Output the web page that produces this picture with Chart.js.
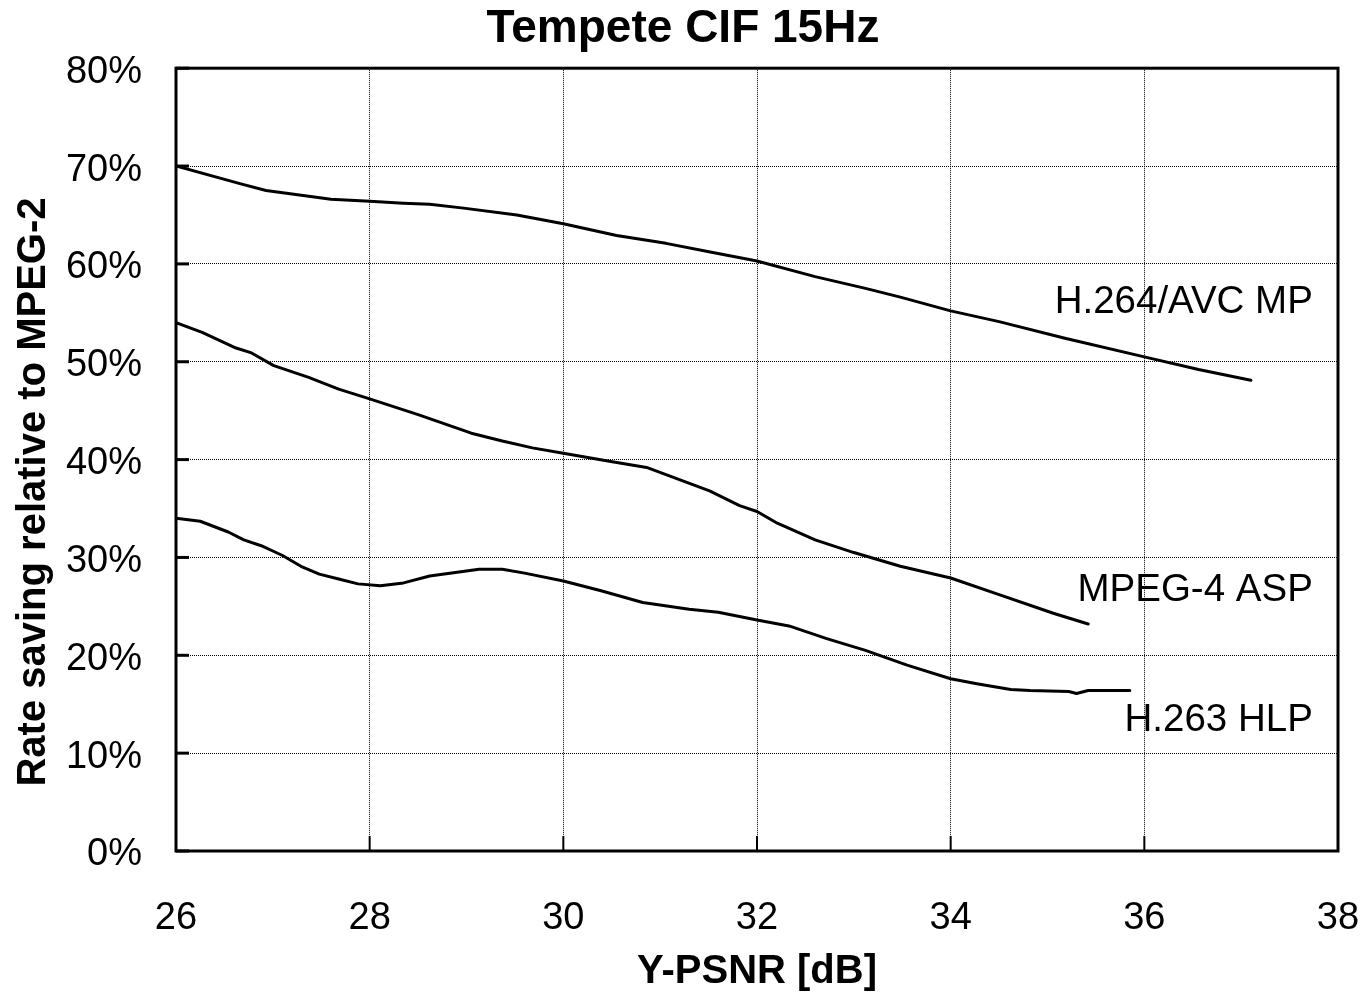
<!DOCTYPE html>
<html>
<head>
<meta charset="utf-8">
<script src="https://cdn.jsdelivr.net/npm/chart.js@4.4.1/dist/chart.umd.min.js"></script>
<style>
    html, body { margin: 0; padding: 0; background: #fff; }
    #wrap { width: 1363px; height: 997px; }
</style>
</head>
<body>
<div id="wrap"><canvas id="rdChart" width="1363" height="997"></canvas></div>
<script>
'use strict';

// Y-PSNR [dB] / rate saving [%]
const h264Psnr = [26, 26.66, 26.93, 27.6, 28.0, 28.35, 28.62, 28.97, 29.52, 30.0, 30.55, 31.06, 31.53, 32.0,
    32.6, 33.12, 33.48, 34.0, 34.5, 35.18, 36.0, 36.56, 37.1];
const h264Saving = [70.0, 68.2, 67.5, 66.6, 66.4, 66.2, 66.1, 65.7, 65.0, 64.1, 62.9, 62.1, 61.2, 60.3,
    58.7, 57.5, 56.6, 55.2, 54.1, 52.4, 50.5, 49.2, 48.1];

const mpeg4Psnr = [26, 26.27, 26.62, 26.78, 27.01, 27.37, 27.68, 28.0, 28.5, 29.05, 29.37, 29.68, 30.0, 30.49,
    30.86, 31.24, 31.51, 31.82, 32.0, 32.21, 32.6, 33.0, 33.48, 34.0, 34.5, 35.06, 35.42];
const mpeg4Saving = [54.0, 53.0, 51.4, 50.9, 49.6, 48.4, 47.2, 46.2, 44.6, 42.7, 41.9, 41.2, 40.65, 39.8,
    39.2, 37.8, 36.8, 35.3, 34.7, 33.5, 31.8, 30.5, 29.1, 27.9, 26.2, 24.3, 23.2];

const h263Psnr = [26, 26.25, 26.54, 26.7, 26.88, 27.1, 27.29, 27.48, 27.68, 27.88, 28.11, 28.35, 28.62, 29.13,
    29.37, 29.6, 30.0, 30.39, 30.82, 31.3, 31.6, 32.0, 32.33, 32.72, 33.12, 33.55, 34.0, 34.27, 34.62,
    34.82, 35.22, 35.3, 35.42, 35.85];
const h263Saving = [34.0, 33.7, 32.6, 31.8, 31.2, 30.2, 29.1, 28.3, 27.8, 27.3, 27.1, 27.4, 28.1, 28.8,
    28.8, 28.4, 27.6, 26.6, 25.4, 24.7, 24.4, 23.6, 23.0, 21.7, 20.5, 19.0, 17.6, 17.1, 16.5,
    16.4, 16.3, 16.1, 16.4, 16.4];

const seriesNames = ['H.264/AVC MP', 'MPEG-4 ASP', 'H.263 HLP'];
const xTicks = [26, 28, 30, 32, 34, 36, 38];
const yTicks = [0, 10, 20, 30, 40, 50, 60, 70, 80];

const FONT = '"Liberation Sans", Arial, Helvetica, sans-serif';

function toPoints(xs, ys) {
    return xs.map((x, i) => ({ x: x, y: ys[i] }));
}

// where the curve labels sit (right edge / baseline, in data units)
const labelAnchors = [
    { x: 37.74, y: 55.0 },
    { x: 37.74, y: 25.5 },
    { x: 37.74, y: 12.3 }
];

/**
 * Frame, inward tick marks, curve labels and the y-axis title
 */
const decorPlugin = {
    id: 'decor',
    beforeDatasetsDraw(chart) {
        const ctx = chart.ctx;
        const a = chart.chartArea;
        const xs = chart.scales.x;
        const ys = chart.scales.y;
        ctx.save();
        ctx.strokeStyle = '#000';
        ctx.lineCap = 'butt';

        // y ticks, pointing into the plot
        ctx.lineWidth = 3;
        yTicks.forEach(v => {
            const py = ys.getPixelForValue(v);
            ctx.beginPath();
            ctx.moveTo(a.left, py);
            ctx.lineTo(a.left + 13, py);
            ctx.stroke();
        });
        // x ticks
        ctx.lineWidth = 2;
        xTicks.forEach(v => {
            const px = xs.getPixelForValue(v);
            ctx.beginPath();
            ctx.moveTo(px, a.bottom);
            ctx.lineTo(px, a.bottom - 15);
            ctx.stroke();
        });

        // frame
        ctx.lineWidth = 3;
        ctx.strokeRect(a.left, a.top, a.right - a.left, a.bottom - a.top);
        ctx.restore();
    },
    afterDatasetsDraw(chart) {
        const ctx = chart.ctx;
        const xs = chart.scales.x;
        const ys = chart.scales.y;
        ctx.save();
        ctx.fillStyle = '#000';
        ctx.font = '38.5px ' + FONT;
        ctx.textAlign = 'right';
        ctx.textBaseline = 'alphabetic';
        seriesNames.forEach((name, i) => {
            const p = labelAnchors[i];
            ctx.fillText(name, xs.getPixelForValue(p.x), ys.getPixelForValue(p.y));
        });

        // y-axis title
        ctx.font = 'bold 40px ' + FONT;
        ctx.textAlign = 'center';
        ctx.translate(45, 492);
        ctx.rotate(-Math.PI / 2);
        ctx.fillText('Rate saving relative to MPEG-2', 0, 0);
        ctx.restore();
    }
};

const lineStyle = {
    borderColor: '#000',
    borderWidth: 3,
    pointRadius: 0,
    tension: 0,
    fill: false,
    borderJoinStyle: 'round',
    borderCapStyle: 'round'
};

new Chart(document.getElementById('rdChart').getContext('2d'), {
    type: 'scatter',
    data: {
        datasets: [
            { label: seriesNames[0], data: toPoints(h264Psnr, h264Saving), showLine: true, ...lineStyle },
            { label: seriesNames[1], data: toPoints(mpeg4Psnr, mpeg4Saving), showLine: true, ...lineStyle },
            { label: seriesNames[2], data: toPoints(h263Psnr, h263Saving), showLine: true, ...lineStyle }
        ]
    },
    options: {
        responsive: false,
        animation: false,
        devicePixelRatio: 1,
        layout: { padding: { left: 28, right: 25, top: 0, bottom: 0 } },
        plugins: {
            legend: { display: false },
            tooltip: { enabled: false },
            title: {
                display: true,
                text: 'Tempete CIF 15Hz',
                color: '#000',
                font: { family: FONT, size: 46, weight: 'bold', lineHeight: 1.2 },
                padding: { top: 2, bottom: 11 }
            }
        },
        scales: {
            x: {
                type: 'linear',
                min: 26,
                max: 38,
                afterBuildTicks: scale => { scale.ticks = xTicks.map(v => ({ value: v })); },
                afterFit: scale => {
                    scale.height = 146;
                    scale.paddingLeft = 0;
                    scale.paddingRight = 0;
                },
                ticks: {
                    color: '#000',
                    font: { family: FONT, size: 38 },
                    padding: 45
                },
                grid: {
                    color: '#000',
                    lineWidth: 1,
                    drawTicks: false
                },
                border: { display: false, dash: [1, 1] },
                title: {
                    display: true,
                    text: 'Y-PSNR [dB]',
                    color: '#000',
                    font: { family: FONT, size: 40, weight: 'bold', lineHeight: 1.2 },
                    padding: { top: 0, bottom: 1 }
                }
            },
            y: {
                type: 'linear',
                min: 0,
                max: 80,
                afterBuildTicks: scale => { scale.ticks = yTicks.map(v => ({ value: v })); },
                afterFit: scale => { scale.width = 148; },
                ticks: {
                    color: '#000',
                    font: { family: FONT, size: 38 },
                    padding: 34,
                    labelOffset: 4,
                    callback: v => v + '%'
                },
                grid: {
                    color: '#000',
                    lineWidth: 1,
                    drawTicks: false
                },
                border: { display: false, dash: [1, 1] }
            }
        }
    },
    plugins: [decorPlugin]
});
</script>
</body>
</html>
